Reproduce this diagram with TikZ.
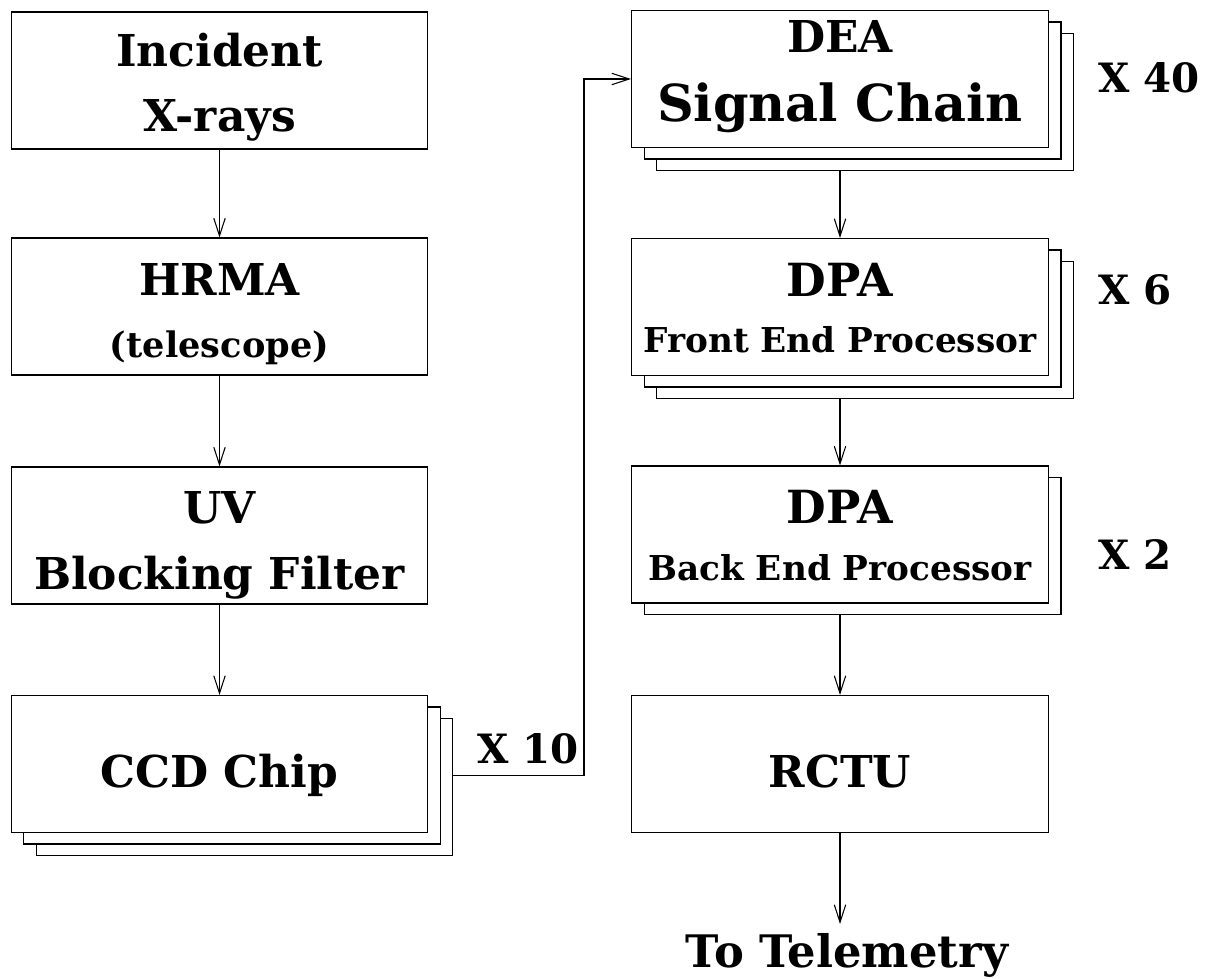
\documentclass[tikz,border=0pt]{standalone}
\usepackage{fontspec}
\setmainfont{DejaVu Serif}
\usetikzlibrary{arrows.meta}

\begin{document}
\begin{tikzpicture}[x=0.02cm, y=-0.02cm, line width=0.6pt,
    blk/.style={draw, fill=white, minimum width=8.34cm, minimum height=2.74cm,
        inner sep=0pt, align=center, font=\bfseries\fontsize{25}{30}\selectfont},
    mult/.style={font=\bfseries\fontsize{23}{27}\selectfont},
    arr/.style={-{Straight Barb[length=10pt,width=6.5pt]}}]
    \def\dx{12.5}
    \def\dy{11.5}
    \def\lx{219.5}
    \def\rx{840}
    \def\sub{\fontsize{19.5}{23}\selectfont}
    \def\dpa{\fontsize{26}{30}\selectfont DPA}
    % struts fixing where the lines sit in a box
    \def\up#1{\rule{0pt}{#1}}
    \def\dn#1{\rule[-#1]{0pt}{#1}}
    \useasboundingbox (0,0) rectangle (1206,979);

    % left column
    \node[blk] (inc) at (\lx,80.5) {\up{29.6pt}Incident\\[7pt]X-rays\dn{8pt}};
    \node[blk] (hrma) at (\lx,306.5) {\up{30.8pt}HRMA\\[5.8pt]{\fontsize{20}{23}\selectfont (telescope)}\dn{8pt}};
    \node[blk] (uv) at (\lx,535.5) {\up{31.9pt}UV\\[8.1pt]Blocking Filter\dn{8pt}};
    \foreach \k in {2,1}
        \node[blk] (ccd\k) at (\lx+\k*\dx,764+\k*\dy) {};
    \node[blk] (ccd) at (\lx,764) {\up{34.2pt}CCD Chip\dn{8pt}};

    % right column
    \foreach \k in {2,1}
        \node[blk] (dea\k) at (\rx+\k*\dx,79+\k*\dy) {};
    \node[blk] (dea) at (\rx,79) {\up{23.5pt}DEA\\[9.5pt]{\fontsize{29}{34}\selectfont Signal Chain}\dn{14.2pt}};
    \foreach \k in {2,1}
        \node[blk] (fep\k) at (\rx+\k*\dx,307+\k*\dy) {};
    \node[blk] (fep) at (\rx,307) {\up{27.9pt}{\dpa}\\[2.4pt]{\sub Front End Processor}\dn{8pt}};
    \node[blk] (bep1) at (\rx+\dx,534.5+\dy) {};
    \node[blk] (bep) at (\rx,534.5) {\up{27.9pt}{\dpa}\\[2.4pt]{\sub Back End Processor}\dn{8pt}};
    \node[blk] (rctu) at (\rx,764) {\up{34.2pt}RCTU\dn{8pt}};

    % multiplicities
    \node[mult] (n10) at (528,749) {X 10};
    \node[mult] (n40) at (1149,78) {X 40};
    \node[mult] (n6) at (1135,290) {X 6};
    \node[mult] (n2) at (1135,555) {X 2};
    \node[mult, font=\bfseries\fontsize{25.5}{30}\selectfont, anchor=base] (tm) at (847,967) {To Telemetry};
    \coordinate (bend) at (584,400);
    \coordinate (tmtip) at (\rx,924);

    % connectors
    \draw[arr] (inc) -- (hrma);
    \draw[arr] (hrma) -- (uv);
    \draw[arr] (uv) -- (ccd);
    \draw[arr] (ccd2.east |- ccd1.east) -| (bend) |- (dea.west);
    \draw[arr] (dea.south |- dea2.south) -- (fep.north);
    \draw[arr] (fep.south |- fep2.south) -- (bep.north);
    \draw[arr] (bep.south |- bep1.south) -- (rctu.north);
    \draw[arr] (rctu.south) -- (tmtip);
\end{tikzpicture}
\end{document}
